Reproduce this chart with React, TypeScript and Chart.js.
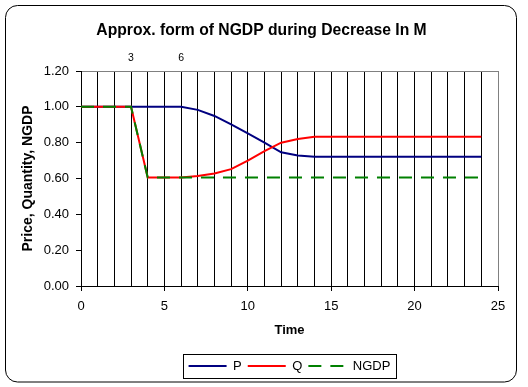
import React, { useEffect, useRef } from 'react';
import { Chart, registerables } from 'chart.js';

Chart.register(...registerables);

const TITLE = 'Approx. form of NGDP during Decrease In M';
const X_TITLE = 'Time';
const Y_TITLE = 'Price, Quantity, NGDP';
const SERIES_NAMES = ['P', 'Q', 'NGDP'];
const TIME = [0, 1, 2, 3, 4, 5, 6, 7, 8, 9, 10, 11, 12, 13, 14, 15, 16, 17, 18, 19, 20, 21, 22, 23, 24];
const P = [1, 1, 1, 1, 1, 1, 1, 0.983, 0.949, 0.902, 0.852, 0.8, 0.746, 0.729, 0.722, 0.722, 0.722, 0.722, 0.722, 0.722, 0.722, 0.722, 0.722, 0.722, 0.722];
const Q = [1, 1, 1, 1, 0.605, 0.605, 0.605, 0.614, 0.628, 0.652, 0.7, 0.753, 0.8, 0.82, 0.833, 0.833, 0.833, 0.833, 0.833, 0.833, 0.833, 0.833, 0.833, 0.833, 0.833];
const NGDP = [1, 1, 1, 1, 0.605, 0.605, 0.605, 0.605, 0.605, 0.605, 0.605, 0.605, 0.605, 0.605, 0.605, 0.605, 0.605, 0.605, 0.605, 0.605, 0.605, 0.605, 0.605, 0.605, 0.605];
const X_MIN = 0;
const X_MAX = 25;
const Y_MIN = 0;
const Y_MAX = 1.2;
const Y_STEP = 0.2;
const TOP_LABELS = [3, 6];

const FONT = "'Liberation Sans', Arial, sans-serif";

export default function App() {
  const ref = useRef<HTMLCanvasElement>(null);

  useEffect(() => {
    const canvas = ref.current!;
    const frame = {
      id: 'frame',
      beforeDraw(chart: any) {
        const ctx = chart.ctx;
        ctx.save();
        ctx.fillStyle = '#ffffff';
        ctx.fillRect(0, 0, chart.width, chart.height);
        ctx.strokeStyle = '#000000';
        ctx.lineWidth = 1;
        ctx.beginPath();
        (ctx as any).roundRect(5.5, 5.5, 511, 376.5, 12);
        ctx.stroke();
        ctx.restore();
      },
    };
    const legendBox = {
      id: 'legendBox',
      afterDraw(chart: any) {
        const lg = chart.legend;
        if (!lg || !lg.legendHitBoxes || !lg.legendHitBoxes.length) return;
        const hb = lg.legendHitBoxes;
        let l = Infinity, r = -Infinity, t = Infinity, b = -Infinity;
        hb.forEach((h: any) => {
          l = Math.min(l, h.left);
          r = Math.max(r, h.left + h.width);
          t = Math.min(t, h.top);
          b = Math.max(b, h.top + h.height);
        });
        const ctx = chart.ctx;
        ctx.save();
        ctx.strokeStyle = '#000000';
        ctx.lineWidth = 1;
        ctx.setLineDash([]);
        ctx.strokeRect(Math.round(l - 6) + 0.5, Math.round(t - 6) + 0.5, Math.round(r - l + 11), Math.round(b - t + 11));
        ctx.restore();
      },
    };

    const mk = (arr: number[]) => arr.map((v, i) => ({ x: TIME[i], y: v }));

    const chart = new Chart(canvas, {
      type: 'line',
      data: {
        datasets: [
          { label: SERIES_NAMES[0], data: mk(P), borderColor: '#000080', backgroundColor: '#000080', borderWidth: 2, pointRadius: 0, tension: 0, order: 3, xAxisID: 'x', yAxisID: 'y' },
          { label: SERIES_NAMES[1], data: mk(Q), borderColor: '#ff0000', backgroundColor: '#ff0000', borderWidth: 2, pointRadius: 0, tension: 0, order: 2, xAxisID: 'x', yAxisID: 'y' },
          { label: SERIES_NAMES[2], data: mk(NGDP), borderColor: '#008000', backgroundColor: '#008000', borderWidth: 2, borderDash: [13, 9], pointRadius: 0, tension: 0, order: 1, xAxisID: 'x', yAxisID: 'y' },
        ],
      } as any,
      options: {
        responsive: false,
        animation: false,
        devicePixelRatio: 1,
        layout: { padding: { left: 25, right: 30, top: 0, bottom: 4.5 } },
        plugins: {
          tooltip: { enabled: false },
          title: {
            display: true,
            text: TITLE,
            color: '#000000',
            font: { family: FONT, size: 15.7, weight: 'bold' },
            padding: { top: 21, bottom: 0 },
          },
          legend: {
            display: true,
            position: 'bottom',
            fullSize: false,
            labels: {
              usePointStyle: true,
              pointStyle: 'line',
              pointStyleWidth: 38,
              padding: 6,
              color: '#000000',
              font: { family: FONT, size: 13 },
              sort: (a: any, b: any) => a.datasetIndex - b.datasetIndex,
              generateLabels: (ch: any) => {
                const items = Chart.defaults.plugins.legend.labels.generateLabels(ch);
                items.forEach((it: any) => {
                  const ds = ch.data.datasets[it.datasetIndex];
                  it.lineDash = ds.borderDash || [];
                  it.lineWidth = ds.borderWidth;
                  it.strokeStyle = ds.borderColor;
                  it.fillStyle = ds.borderColor;
                });
                return items;
              },
            },
          },
        },
        scales: {
          x: {
            type: 'linear',
            position: 'bottom',
            min: X_MIN,
            max: X_MAX,
            ticks: {
              stepSize: 1,
              autoSkip: false,
              maxRotation: 0,
              color: '#000000',
              padding: 8,
              font: { family: FONT, size: 13 },
              callback: (v: any) => (Number(v) % 5 === 0 ? String(v) : ''),
            },
            grid: {
              color: (c: any) => (c.tick && c.tick.value === X_MAX ? '#808080' : '#000000'),
              tickColor: (c: any) => (c.tick && c.tick.value % 5 === 0 ? '#000000' : 'rgba(0,0,0,0)'),
              tickLength: 5,
              lineWidth: 1,
            },
            border: { color: '#000000', width: 1 },
            title: {
              display: true,
              text: X_TITLE,
              color: '#000000',
              font: { family: FONT, size: 13, weight: 'bold' },
              padding: { top: 0, bottom: 15.7 },
            },
            afterFit: (s: any) => { s.height = 67.5; },
          } as any,
          x2: {
            type: 'linear',
            position: 'top',
            min: X_MIN,
            max: X_MAX,
            grid: { display: false, drawTicks: false },
            border: { display: false },
            ticks: {
              stepSize: 1,
              autoSkip: false,
              maxRotation: 0,
              color: '#000000',
              padding: 7,
              font: { family: FONT, size: 10.5 },
              callback: (v: any) => (TOP_LABELS.includes(Number(v)) ? String(v) : ''),
            },
            afterFit: (s: any) => { s.height = 31.16; },
          } as any,
          y: {
            type: 'linear',
            position: 'left',
            min: Y_MIN,
            max: Y_MAX,
            ticks: {
              stepSize: Y_STEP,
              color: '#000000',
              padding: 7,
              font: { family: FONT, size: 13 },
              callback: (v: any) => Number(v).toFixed(2),
            },
            grid: {
              color: (c: any) => (c.tick && Math.abs(c.tick.value - Y_MAX) < 1e-9 ? '#808080' : 'rgba(0,0,0,0)'),
              tickColor: '#000000',
              tickLength: 5,
              lineWidth: 1,
            },
            border: { color: '#000000', width: 1 },
            title: {
              display: true,
              text: Y_TITLE,
              color: '#000000',
              font: { family: FONT, size: 14, weight: 'bold' },
              padding: { top: -5, bottom: 0 },
            },
            afterFit: (s: any) => { s.width = 56; },
          } as any,
        },
      } as any,
      plugins: [frame, legendBox],
    });
    return () => chart.destroy();
  }, []);

  return (
    <div style={{ position: 'absolute', left: 0, top: 0, width: 528, height: 387 }}>
      <canvas ref={ref} width={528} height={387} style={{ display: 'block', width: 528, height: 387 }} />
    </div>
  );
}
